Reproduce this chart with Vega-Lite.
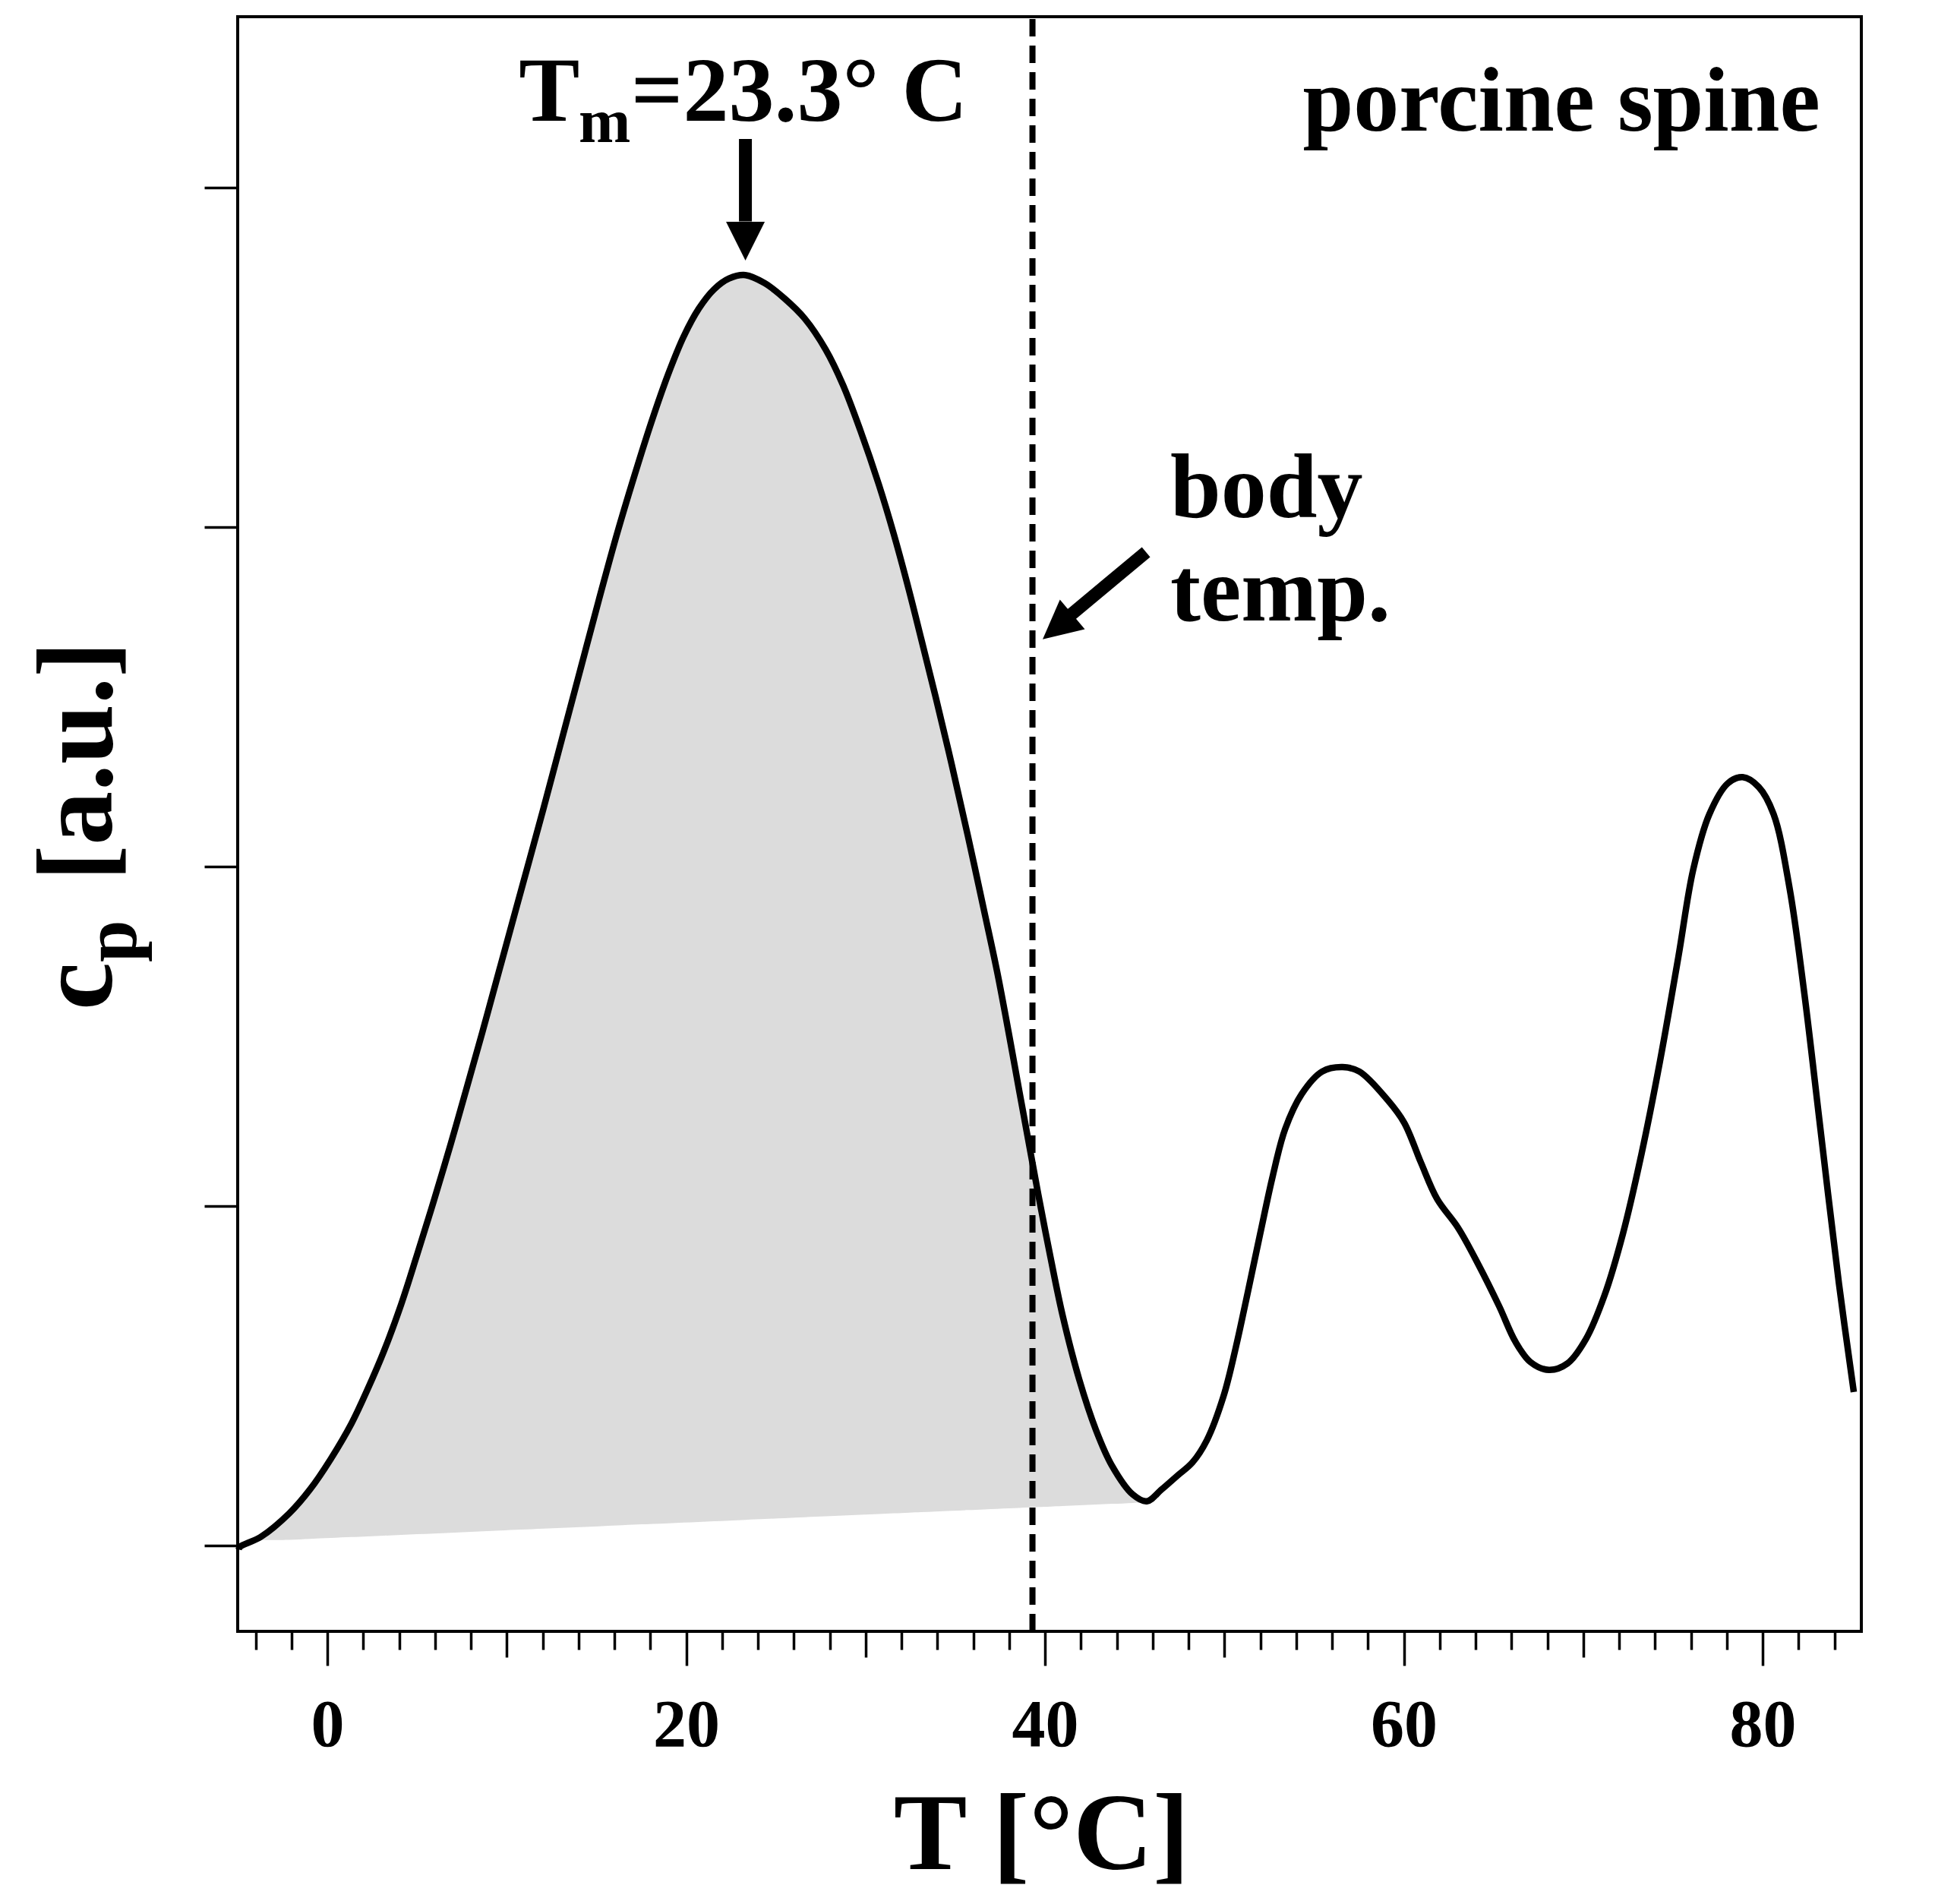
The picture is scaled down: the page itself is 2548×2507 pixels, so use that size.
{
  "$schema": "https://vega.github.io/schema/vega-lite/v6.json",
  "width": 2138,
  "height": 2126,
  "autosize": {"type": "none"},
  "padding": {"left": 313, "top": 22, "right": 97, "bottom": 359},
  "background": "white",
  "config": {
    "font": "Liberation Serif",
    "view": {"stroke": "black", "strokeWidth": 4},
    "text": {"font": "Liberation Serif", "fontWeight": "bold", "color": "black", "baseline": "alphabetic"}
  },
  "datasets": {
    "curve": [
      {"t": -4.95, "cp": -0.012},
      {"t": -4.87, "cp": -0.004},
      {"t": -3.72, "cp": 0.025, "base": 0.016},
      {"t": -2.12, "cp": 0.095, "base": 0.0167},
      {"t": -0.97, "cp": 0.165, "base": 0.0193},
      {"t": 0.19, "cp": 0.255, "base": 0.022},
      {"t": 1.35, "cp": 0.36, "base": 0.0247},
      {"t": 2.24, "cp": 0.46, "base": 0.0268},
      {"t": 3.17, "cp": 0.575, "base": 0.0289},
      {"t": 4.11, "cp": 0.71, "base": 0.0311},
      {"t": 4.99, "cp": 0.855, "base": 0.0331},
      {"t": 5.93, "cp": 1.015, "base": 0.0353},
      {"t": 6.86, "cp": 1.18, "base": 0.0374},
      {"t": 7.75, "cp": 1.345, "base": 0.0395},
      {"t": 8.68, "cp": 1.52, "base": 0.0416},
      {"t": 9.61, "cp": 1.7, "base": 0.0438},
      {"t": 10.8, "cp": 1.93, "base": 0.0465},
      {"t": 12.04, "cp": 2.17, "base": 0.0494},
      {"t": 13.07, "cp": 2.375, "base": 0.0518},
      {"t": 14.1, "cp": 2.58, "base": 0.0542},
      {"t": 15.13, "cp": 2.785, "base": 0.0565},
      {"t": 16.17, "cp": 2.985, "base": 0.0589},
      {"t": 17.31, "cp": 3.185, "base": 0.0616},
      {"t": 18.16, "cp": 3.325, "base": 0.0635},
      {"t": 19.01, "cp": 3.452, "base": 0.0655},
      {"t": 19.85, "cp": 3.56, "base": 0.0674},
      {"t": 20.7, "cp": 3.643, "base": 0.0694},
      {"t": 21.55, "cp": 3.7, "base": 0.0714},
      {"t": 22.39, "cp": 3.732, "base": 0.0733},
      {"t": 23.3, "cp": 3.742, "base": 0.0754},
      {"t": 24.38, "cp": 3.718, "base": 0.0779},
      {"t": 25.48, "cp": 3.673, "base": 0.0804},
      {"t": 26.62, "cp": 3.613, "base": 0.0831},
      {"t": 27.77, "cp": 3.523, "base": 0.0857},
      {"t": 28.74, "cp": 3.418, "base": 0.088},
      {"t": 29.71, "cp": 3.284, "base": 0.0902},
      {"t": 30.73, "cp": 3.126, "base": 0.0926},
      {"t": 31.58, "cp": 2.977, "base": 0.0946},
      {"t": 32.42, "cp": 2.813, "base": 0.0965},
      {"t": 33.1, "cp": 2.67, "base": 0.0981},
      {"t": 33.9, "cp": 2.5, "base": 0.0999},
      {"t": 34.8, "cp": 2.3, "base": 0.102},
      {"t": 35.7, "cp": 2.09, "base": 0.1041},
      {"t": 36.61, "cp": 1.868, "base": 0.1062},
      {"t": 37.33, "cp": 1.69, "base": 0.1078},
      {"t": 38.01, "cp": 1.5, "base": 0.1094},
      {"t": 38.56, "cp": 1.34, "base": 0.1107},
      {"t": 39.15, "cp": 1.17, "base": 0.112},
      {"t": 39.62, "cp": 1.035, "base": 0.1131},
      {"t": 40.3, "cp": 0.85, "base": 0.1147},
      {"t": 40.97, "cp": 0.68, "base": 0.1163},
      {"t": 41.9, "cp": 0.49, "base": 0.1184},
      {"t": 42.84, "cp": 0.34, "base": 0.1206},
      {"t": 43.73, "cp": 0.235, "base": 0.1226},
      {"t": 44.89, "cp": 0.15, "base": 0.1253},
      {"t": 45.67, "cp": 0.13, "base": 0.128},
      {"t": 46.48, "cp": 0.164},
      {"t": 47.41, "cp": 0.207},
      {"t": 48.21, "cp": 0.244},
      {"t": 49.02, "cp": 0.31},
      {"t": 49.95, "cp": 0.44},
      {"t": 50.62, "cp": 0.58},
      {"t": 51.3, "cp": 0.745},
      {"t": 52.0, "cp": 0.92},
      {"t": 52.7, "cp": 1.09},
      {"t": 53.38, "cp": 1.226},
      {"t": 54.31, "cp": 1.33},
      {"t": 55.45, "cp": 1.396},
      {"t": 56.59, "cp": 1.409},
      {"t": 57.52, "cp": 1.396},
      {"t": 59.11, "cp": 1.311},
      {"t": 60.02, "cp": 1.245},
      {"t": 60.95, "cp": 1.128},
      {"t": 61.86, "cp": 1.02},
      {"t": 63.03, "cp": 0.935},
      {"t": 64.17, "cp": 0.826},
      {"t": 65.31, "cp": 0.705},
      {"t": 66.22, "cp": 0.6},
      {"t": 67.06, "cp": 0.54},
      {"t": 68.09, "cp": 0.517},
      {"t": 69.12, "cp": 0.536},
      {"t": 70.15, "cp": 0.608},
      {"t": 71.18, "cp": 0.736},
      {"t": 72.21, "cp": 0.918},
      {"t": 73.25, "cp": 1.154},
      {"t": 74.28, "cp": 1.427},
      {"t": 75.31, "cp": 1.736},
      {"t": 76.13, "cp": 1.991},
      {"t": 77.03, "cp": 2.154},
      {"t": 78.06, "cp": 2.245},
      {"t": 78.89, "cp": 2.263},
      {"t": 79.78, "cp": 2.234},
      {"t": 80.61, "cp": 2.154},
      {"t": 81.5, "cp": 1.936},
      {"t": 82.32, "cp": 1.627},
      {"t": 83.22, "cp": 1.227},
      {"t": 84.25, "cp": 0.772},
      {"t": 85.08, "cp": 0.452}
    ]
  },
  "encoding": {
    "x": {
      "field": "t",
      "type": "quantitative",
      "scale": {"domain": [-5, 85.5], "nice": false, "zero": false},
      "axis": {
        "values": [-4, -2, 0, 2, 4, 6, 8, 10, 12, 14, 16, 18, 20, 22, 24, 26, 28, 30, 32, 34, 36, 38, 40, 42, 44, 46, 48, 50, 52, 54, 56, 58, 60, 62, 64, 66, 68, 70, 72, 74, 76, 78, 80, 82, 84],
        "tickSize": {"condition": [{"test": "datum.value % 20 === 0", "value": 45}, {"test": "datum.value % 10 === 0", "value": 34}], "value": 24},
        "tickWidth": 3.5,
        "tickColor": "black",
        "domain": false,
        "grid": false,
        "labelExpr": "datum.value % 20 === 0 ? datum.label : ''",
        "labelFont": "Liberation Serif",
        "labelFontSize": 88,
        "labelFontWeight": "bold",
        "labelColor": "black",
        "labelBaseline": "alphabetic",
        "labelPadding": 105,
        "labelFlush": false,
        "labelOverlap": false,
        "title": "T [°C]",
        "titleFont": "Liberation Serif",
        "titleFontSize": 145,
        "titleFontWeight": "bold",
        "titleColor": "black",
        "titleBaseline": "alphabetic",
        "titleAlign": "center",
        "titleX": 1058,
        "titleY": 312
      }
    },
    "y": {
      "field": "cp",
      "type": "quantitative",
      "scale": {"domain": [-0.253, 4.503], "nice": false, "zero": false},
      "axis": {
        "values": [0, 1, 2, 3, 4],
        "tickSize": 44,
        "tickWidth": 3.5,
        "tickColor": "black",
        "labels": false,
        "domain": false,
        "grid": false,
        "title": null
      }
    }
  },
  "layer": [
    {
      "data": {"name": "curve"},
      "transform": [{"filter": "isValid(datum.base)"}],
      "mark": {"type": "area", "interpolate": "catmull-rom", "color": "#dcdcdc", "opacity": 1},
      "encoding": {"y2": {"field": "base"}}
    },
    {
      "data": {"name": "curve"},
      "mark": {"type": "line", "interpolate": "catmull-rom", "color": "black", "strokeWidth": 8.5}
    },
    {
      "data": {"values": [{"t": 39.3, "cp": -0.253, "cp2": 4.503}]},
      "mark": {"type": "rule", "color": "black", "strokeWidth": 8, "strokeDash": [23, 12]},
      "encoding": {"y2": {"field": "cp2"}}
    },
    {
      "data": {"values": [
        {"t": 23.3, "cp": 4.143, "t2": 23.3, "cp2": 3.9},
        {"t": 45.63, "cp": 2.926, "t2": 41.02, "cp2": 2.723}
      ]},
      "mark": {"type": "rule", "color": "black", "strokeWidth": 17, "strokeCap": "butt"},
      "encoding": {"x2": {"field": "t2"}, "y2": {"field": "cp2"}}
    },
    {
      "data": {"values": [{"t": 23.3, "cp": 3.785}]},
      "mark": {"type": "point", "filled": true, "color": "black", "opacity": 1, "shape": "M -0.5 -1 L 0.5 -1 L 0 0 Z", "size": 10404}
    },
    {
      "data": {"values": [{"t": 39.87, "cp": 2.669}]},
      "mark": {"type": "point", "filled": true, "color": "black", "opacity": 1, "shape": "M -0.5 -1 L 0.5 -1 L 0 0 Z", "size": 10404, "angle": 50}
    },
    {
      "data": {"values": [
        {"t": 10.67, "cp": 4.197, "label": "T"},
        {"t": 16.93, "cp": 4.197, "label": "=23.3° C"},
        {"t": 46.98, "cp": 3.029, "label": "body"},
        {"t": 46.98, "cp": 2.725, "label": "temp."}
      ]},
      "mark": {"type": "text", "align": "left", "fontSize": 120},
      "encoding": {"text": {"field": "label"}}
    },
    {
      "data": {"values": [{"t": 14.01, "cp": 4.134, "label": "m"}]},
      "mark": {"type": "text", "align": "left", "fontSize": 82},
      "encoding": {"text": {"field": "label"}}
    },
    {
      "data": {"values": [{"t": 83.2, "cp": 4.168, "label": "porcine spine"}]},
      "mark": {"type": "text", "align": "right", "fontSize": 120},
      "encoding": {"text": {"field": "label"}}
    },
    {
      "data": {"values": [
        {"t": -12.02, "cp": 1.577, "label": "c"},
        {"t": -12.02, "cp": 1.957, "label": "[a.u.]"}
      ]},
      "mark": {"type": "text", "align": "left", "angle": 270, "fontSize": 142},
      "encoding": {"text": {"field": "label"}}
    },
    {
      "data": {"values": [{"t": -10.67, "cp": 1.718, "label": "p"}]},
      "mark": {"type": "text", "align": "left", "angle": 270, "fontSize": 100},
      "encoding": {"text": {"field": "label"}}
    }
  ]
}
